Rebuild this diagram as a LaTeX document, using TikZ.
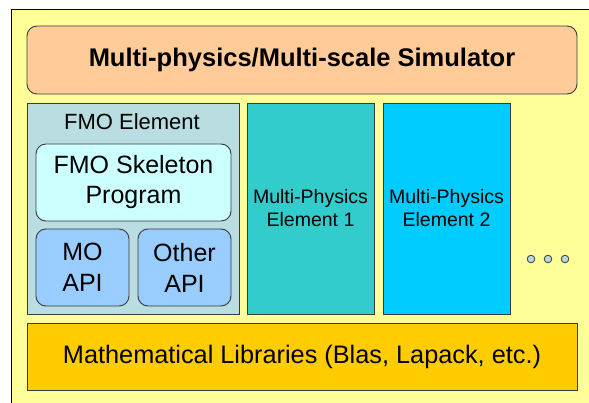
\documentclass[tikz,border=0pt]{standalone}
\usepackage{fontspec}
\setmainfont{Liberation Sans}
\definecolor{outery}{HTML}{FFFF99}
\definecolor{orangeb}{HTML}{FFCC99}
\definecolor{fmob}{HTML}{B9DDE0}
\definecolor{skelb}{HTML}{CCFFFF}
\definecolor{apib}{HTML}{99CCFF}
\definecolor{meone}{HTML}{33CCCC}
\definecolor{metwo}{HTML}{00CCFF}
\definecolor{mathb}{HTML}{FFCC00}
\definecolor{dotb}{HTML}{B8D8E0}
\definecolor{edge}{HTML}{3A3A3A}
\begin{document}
\begin{tikzpicture}[x=1pt,y=-1pt,
  box/.style={draw=edge,line width=0.9pt,inner sep=0pt,outer sep=0pt},
  rbox/.style={box,rounded corners=10pt},
  lab/.style={align=center,inner sep=0pt,text=black}]
\useasboundingbox (0,0) rectangle (589,403);
\fill[white] (0,0) rectangle (589,403);
% outer yellow
\draw[fill=outery,draw=black,line width=1pt] (11,9.5) rectangle (595,410);
% title
\draw[rbox,fill=orangeb] (27,26) rectangle (577,94);
\node[lab,font=\fontsize{25.5}{30}\selectfont\bfseries] (title) at (302,60) {Multi-physics/Multi-scale Simulator};
% FMO element
\draw[box,fill=fmob] (27,103) rectangle (239,314);
\node[lab,font=\fontsize{22}{26}\selectfont] (fmo) at (132,122) {FMO Element};
\draw[rbox,fill=skelb] (36,144) rectangle (231,221);
\node[lab,font=\fontsize{25}{30}\selectfont] (skel) at (133.5,182.5) {FMO Skeleton\\Program};
\draw[rbox,fill=apib] (36,229) rectangle (129,306);
\node[lab,font=\fontsize{25}{31}\selectfont] (mo) at (82.5,267.5) {MO\\API};
\draw[rbox,fill=apib] (138,229) rectangle (231,306);
\node[lab,font=\fontsize{25}{31}\selectfont] (other) at (184.5,267.5) {Other\\API};
% multi-physics elements
\draw[box,fill=meone] (247,103) rectangle (374,314);
\node[lab,font=\fontsize{19.5}{23}\selectfont] (me1) at (310.5,208.5) {Multi-Physics\\Element 1};
\draw[box,fill=metwo] (383,103) rectangle (510,314);
\node[lab,font=\fontsize{19.5}{23}\selectfont] (me2) at (446.5,208.5) {Multi-Physics\\Element 2};
% dots
\foreach \x/\n in {531/d1,548/d2,565/d3}
  \draw[fill=dotb,draw=edge,line width=0.8pt] (\x,259) circle (3.8pt);
% math libraries
\draw[box,fill=mathb] (27,323) rectangle (577,390);
\node[lab,font=\fontsize{25.3}{30}\selectfont] (math) at (302,356.5) {Mathematical Libraries (Blas, Lapack, etc.)};
\end{tikzpicture}
\end{document}
